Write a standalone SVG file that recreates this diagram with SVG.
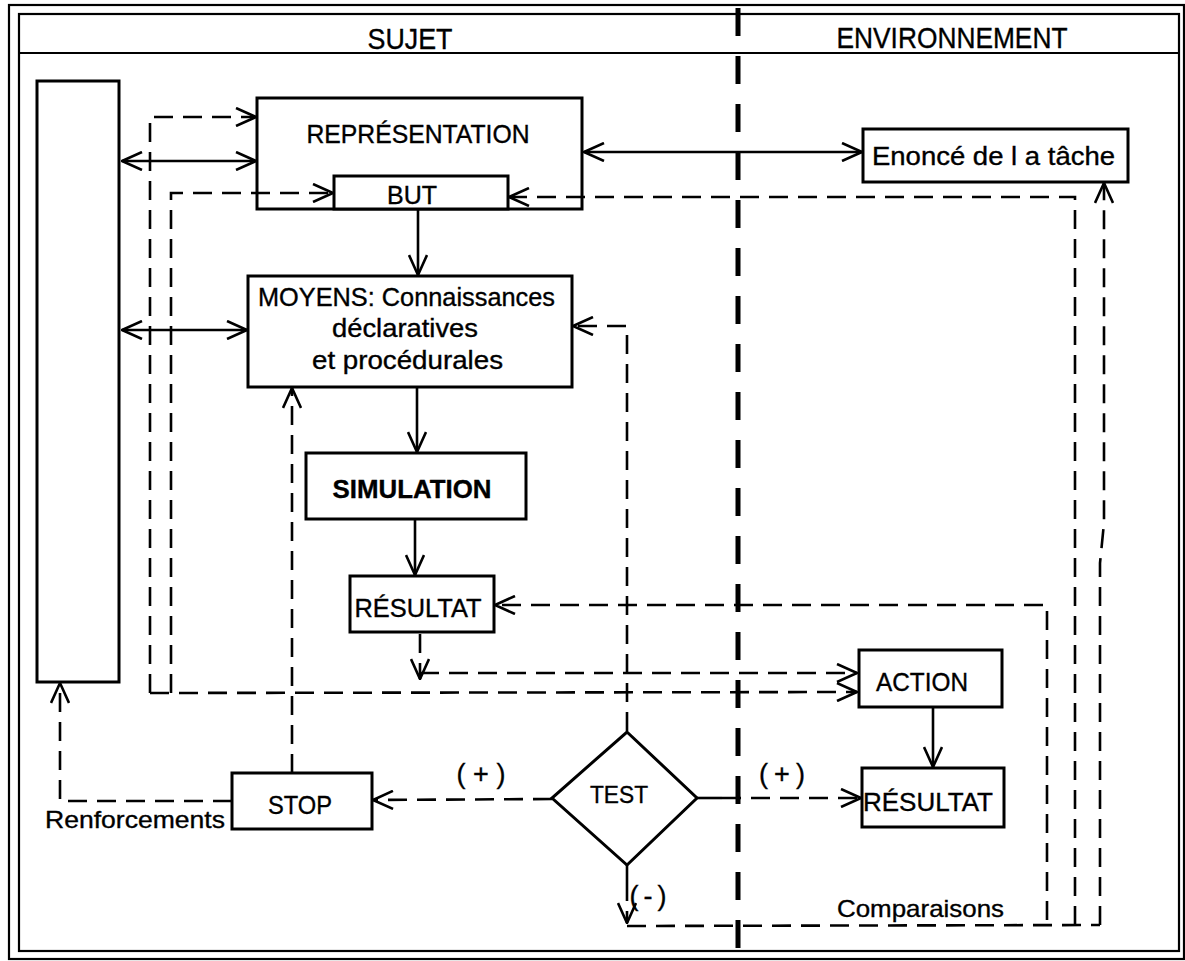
<svg xmlns="http://www.w3.org/2000/svg" width="1185" height="961" viewBox="0 0 1185 961">
  <defs>
    <style>
      .frame { fill: none; stroke: #000; stroke-width: 2.2; }
      .box { fill: #fff; stroke: #000; stroke-width: 3; }
      .solid { fill: none; stroke: #000; stroke-width: 2.6; }
      .dash { fill: none; stroke: #000; stroke-width: 2.6; stroke-dasharray: 19 10; }
      .divider { fill: none; stroke: #000; stroke-width: 5; stroke-dasharray: 28 20; }
      .lbl { font-family: "Liberation Sans", Arial, sans-serif; fill: #000; text-anchor: middle; stroke: #000; stroke-width: 0.35; }
    </style>
    <!-- open V arrowhead, used on both ends of two-way links -->
    <marker id="ah" viewBox="0 0 22 20" refX="21" refY="10" markerWidth="22" markerHeight="20" markerUnits="userSpaceOnUse" orient="auto-start-reverse">
      <path d="M1,1 L21,10 L1,19" fill="none" stroke="#000" stroke-width="2.6" stroke-dasharray="none"/>
    </marker>
  </defs>

  <rect width="1185" height="961" fill="#fff"/>

  <!-- double outer frame and header band -->
  <g id="frame">
    <rect class="frame" x="9" y="5" width="1175" height="954"/>
    <rect class="frame" x="19" y="14" width="1160" height="937"/>
    <line class="frame" x1="19" y1="53" x2="1179" y2="53"/>
    <text class="lbl" x="410" y="49" font-size="29" textLength="85" lengthAdjust="spacingAndGlyphs">SUJET</text>
    <text class="lbl" x="952" y="48" font-size="29" textLength="231" lengthAdjust="spacingAndGlyphs">ENVIRONNEMENT</text>
  </g>

  <!-- subject / environment boundary -->
  <line id="boundary" class="divider" x1="738" y1="8" x2="738" y2="958"/>

  <g id="connectors">
    <!-- solid flow -->
    <line class="solid" x1="122" y1="161" x2="256" y2="161" marker-start="url(#ah)" marker-end="url(#ah)"/>
    <line class="solid" x1="122" y1="330" x2="247" y2="330" marker-start="url(#ah)" marker-end="url(#ah)"/>
    <line class="solid" x1="584" y1="152" x2="862" y2="152" marker-start="url(#ah)" marker-end="url(#ah)"/>
    <line class="solid" x1="418" y1="210" x2="418" y2="275" marker-end="url(#ah)"/>
    <line class="solid" x1="417" y1="388" x2="417" y2="452" marker-end="url(#ah)"/>
    <line class="solid" x1="415" y1="520" x2="415" y2="575" marker-end="url(#ah)"/>
    <line class="solid" x1="933" y1="708" x2="933" y2="767" marker-end="url(#ah)"/>

    <!-- left feedback loops into REPRÉSENTATION and BUT, out to ACTION -->
    <path class="dash" d="M150,693 L150,117 L256,117" marker-end="url(#ah)"/>
    <path class="dash" d="M171,693 L171,193 L333,193" marker-end="url(#ah)"/>
    <path class="dash" d="M150,693 L857,692" marker-end="url(#ah)"/>

    <!-- RÉSULTAT (simulated) toward ACTION -->
    <path class="dash" d="M420,634 L420,679" marker-end="url(#ah)"/>
    <path class="dash" d="M420,673 L857,673" marker-end="url(#ah)"/>

    <!-- TEST outputs -->
    <path class="dash" d="M552,799 L373,800" marker-end="url(#ah)"/>
    <line class="solid" x1="697" y1="798" x2="722" y2="798"/>
    <path class="dash" d="M722,798 L861,798" marker-end="url(#ah)"/>
    <line class="solid" x1="627" y1="865" x2="627" y2="882"/>
    <path class="dash" d="M627,882 L627,923" marker-end="url(#ah)"/>
    <path class="dash" d="M627,731 L627,326 L573,326" marker-end="url(#ah)"/>

    <!-- STOP: reinforcement and return to MOYENS -->
    <path class="dash" d="M232,801 L60,801 L60,683" marker-end="url(#ah)"/>
    <path class="dash" d="M292,773 L292,388" marker-end="url(#ah)"/>

    <!-- comparison feedback along the bottom -->
    <path class="dash" d="M627,926 L1100,925"/>
    <path class="dash" d="M1047,920 L1047,605 L495,605" marker-end="url(#ah)"/>
    <path class="dash" d="M1075,925 L1075,197 L509,197" marker-end="url(#ah)"/>
    <path class="dash" d="M1100,925 L1100,563 L1104,523 L1104,183" marker-end="url(#ah)"/>
  </g>

  <g id="memoire">
    <rect class="box" x="37" y="81" width="82" height="601"/>
  </g>

  <g id="representation">
    <rect class="box" x="257" y="98" width="325" height="111" style="fill:none"/>
    <text class="lbl" x="418" y="143" font-size="25" textLength="223" lengthAdjust="spacingAndGlyphs">REPRÉSENTATION</text>
  </g>

  <g id="but">
    <rect class="box" x="334" y="176" width="174" height="33"/>
    <text class="lbl" x="412" y="204" font-size="25" textLength="50" lengthAdjust="spacingAndGlyphs">BUT</text>
  </g>

  <g id="enonce">
    <rect class="box" x="863" y="129" width="265" height="53"/>
    <text class="lbl" x="993.5" y="165" font-size="25" textLength="243" lengthAdjust="spacingAndGlyphs">Enoncé de l a tâche</text>
  </g>

  <g id="moyens">
    <rect class="box" x="248" y="276" width="324" height="111"/>
    <text class="lbl" x="406.5" y="306" font-size="25" textLength="297" lengthAdjust="spacingAndGlyphs">MOYENS: Connaissances</text>
    <text class="lbl" x="405" y="337" font-size="25" textLength="146" lengthAdjust="spacingAndGlyphs">déclaratives</text>
    <text class="lbl" x="407.5" y="369" font-size="25" textLength="191" lengthAdjust="spacingAndGlyphs">et procédurales</text>
  </g>

  <g id="simulation">
    <rect class="box" x="306" y="453" width="220" height="66"/>
    <text class="lbl" x="412" y="498" font-size="25" font-weight="bold" textLength="159" lengthAdjust="spacingAndGlyphs">SIMULATION</text>
  </g>

  <g id="resultat-sujet">
    <rect class="box" x="350" y="576" width="144" height="56"/>
    <text class="lbl" x="418" y="617" font-size="25" textLength="127" lengthAdjust="spacingAndGlyphs">RÉSULTAT</text>
  </g>

  <g id="action">
    <rect class="box" x="859" y="650" width="143" height="57"/>
    <text class="lbl" x="922" y="691" font-size="25" textLength="92" lengthAdjust="spacingAndGlyphs">ACTION</text>
  </g>

  <g id="resultat-env">
    <rect class="box" x="862" y="768" width="142" height="59"/>
    <text class="lbl" x="928" y="811" font-size="25" textLength="130" lengthAdjust="spacingAndGlyphs">RÉSULTAT</text>
  </g>

  <g id="stop">
    <rect class="box" x="232" y="773" width="140" height="56"/>
    <text class="lbl" x="300" y="814" font-size="25" textLength="64" lengthAdjust="spacingAndGlyphs">STOP</text>
  </g>

  <g id="test">
    <polygon class="box" points="627,732 697,798 627,865 552,798"/>
    <text class="lbl" x="619" y="803" font-size="24" textLength="58" lengthAdjust="spacingAndGlyphs">TEST</text>
  </g>

  <g id="labels">
    <text class="lbl" x="135" y="828" font-size="24" textLength="180" lengthAdjust="spacingAndGlyphs">Renforcements</text>
    <text class="lbl" x="920.5" y="917" font-size="24" textLength="167" lengthAdjust="spacingAndGlyphs">Comparaisons</text>
    <text class="lbl" x="481" y="783" font-size="27" textLength="49">(+)</text>
    <text class="lbl" x="782" y="783" font-size="27" textLength="46">(+)</text>
    <text class="lbl" x="648" y="905" font-size="27" textLength="37">(-)</text>
  </g>
</svg>
